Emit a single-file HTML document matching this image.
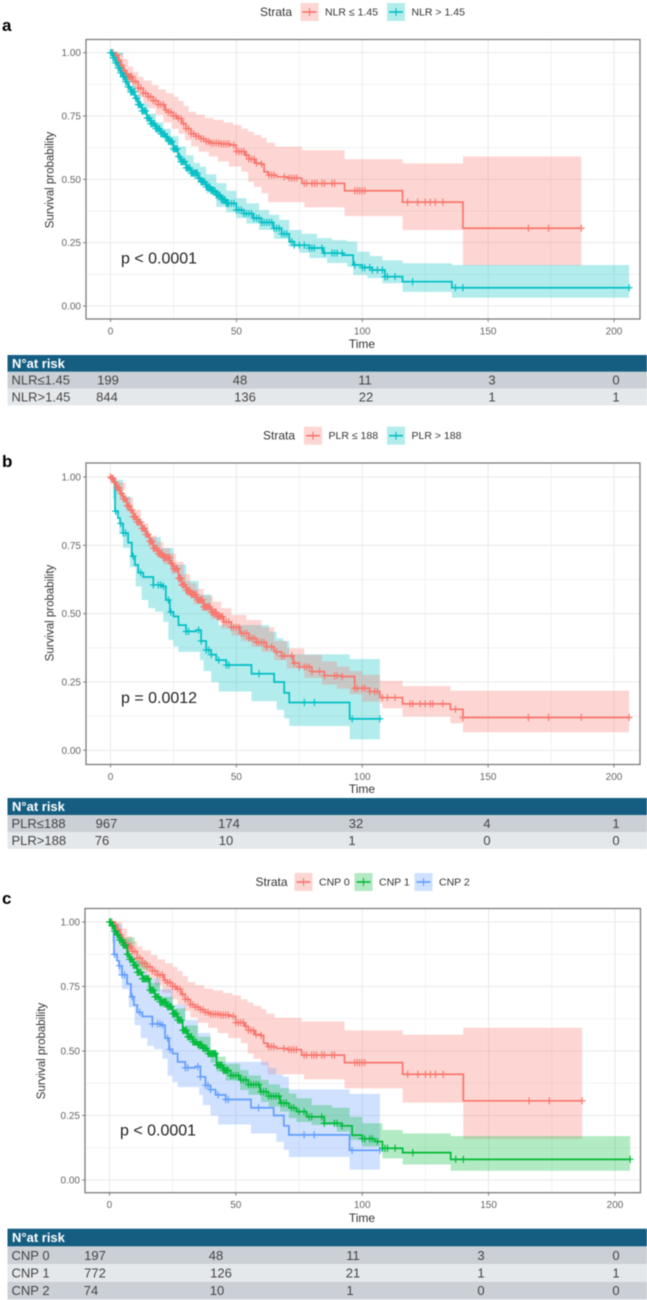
<!DOCTYPE html>
<html lang="en">
<head>
<meta charset="utf-8">
<title>Kaplan-Meier survival curves</title>
<style>
html,body{margin:0;padding:0;background:#fff;width:647px;height:1300px;overflow:hidden}
svg{display:block;filter:blur(0.45px)}
text{font-family:"Liberation Sans",sans-serif}
</style>
</head>
<body>
<svg id="figure" xmlns="http://www.w3.org/2000/svg" width="647" height="1300" viewBox="0 0 647 1300"></svg>
<script>
// ---- axis tick labels ----
const xTickValues = [0, 50, 100, 150, 200];
const xMinorValues = [25, 75, 125, 175];
const yTickValues = [0, 0.25, 0.5, 0.75, 1];
const yMinorValues = [0.125, 0.375, 0.625, 0.875];
const yTickLabels = ["0.00", "0.25", "0.50", "0.75", "1.00"];

// ---- NLR <= 1.45 (also CNP 0) ----
const lowNlrTime = [0,1.5,3,4,5,6,7,9,11,13,15,17,19,21.6,23,25,26.5,28.3,30,32,34,36,38,40,44,47.4,50,53.4,55,57.4,60,61,62.6,66,70.4,76,93,116,140,187];
const lowNlrSurv = [1,.99,.97,.95,.93,.915,.905,.886,.86,.84,.826,.81,.795,.774,.765,.75,.74,.72,.70,.68,.67,.66,.65,.643,.64,.635,.61,.596,.58,.564,.56,.53,.517,.51,.505,.484,.455,.41,.307,.307];
const lowNlrUpperTime = [0,3,5,7,9,11,13,16.4,19,22,25,27,29,31,34,37.5,41,45,48.7,52,54.7,57,60,62,65.3,76,93,116,140,187];
const lowNlrUpper = [1,1,.975,.945,.925,.905,.89,.872,.855,.84,.826,.81,.79,.767,.755,.742,.735,.725,.715,.70,.688,.675,.663,.645,.629,.615,.58,.563,.59,.59];
const lowNlrLowerTime = [0,3,5,7,9,11,13,15,18,21,24.3,27,29.6,32,35,39,42.7,47,52,54.7,57,60,62.6,66,77,93,116,140,187];
const lowNlrLower = [1,.95,.91,.88,.85,.825,.80,.78,.755,.725,.70,.68,.655,.63,.609,.59,.57,.55,.53,.49,.47,.445,.41,.41,.39,.355,.30,.16,.16];
const lowNlrCensor = [1,2,2.5,3,3.5,4,4.5,5,5.5,6,6.5,7,7.5,8,8.5,9,10,11,12,13,14,15,16,17,18,19,20,21,22,23,24,25,26,27,28,29,30,31,32,33,34,35,36,37,38,39,40,41,42,43,44,45,46,47,49,50,51,52,53,54,55,56,57,58,60,63,64,65,69,71,72,73,74,77,78,80,81,82,84,85,88,89,97,98,99,100,101,118,122,125,127,129,132,166,174,187];

// ---- NLR > 1.45 ----
const highNlrTime = [0,1,2,3,4,5,6,7,8,9.7,11,12.5,14.4,16,18,20,21.6,23,25,26.8,28,30,32,34.8,36,38,40,42,44,46,50,53,56.7,60,64.7,68,71,73,79,84.5,92.5,96.4,100,104,109,116,135.6,206];
const highNlrSurv = [1,.98,.96,.94,.92,.905,.885,.865,.845,.82,.795,.77,.742,.72,.70,.68,.668,.65,.62,.59,.57,.545,.525,.505,.49,.47,.455,.438,.42,.405,.379,.365,.347,.33,.307,.285,.254,.24,.229,.209,.201,.162,.152,.142,.116,.096,.072,.072];
const highNlrUpperTime = [0,5,8,10,12,15,18,21,24,27,30,33,35.5,38,42,46,50,54,59,63,67,71,76,82,88,94,98,103,108,116,135.6,206];
const highNlrUpper = [1,.92,.87,.835,.80,.76,.725,.70,.67,.63,.595,.565,.55,.52,.485,.455,.426,.405,.379,.36,.34,.30,.285,.268,.26,.254,.214,.197,.18,.169,.162,.162];
const highNlrLowerTime = [0,5,8,10,12,15,18,21,24,27,30,33,35.5,38,42,46,50,54,59,65,70.7,75,79,86,94,96.4,102,108,116,135.6,206];
const highNlrLower = [.99,.89,.83,.80,.77,.725,.685,.655,.61,.57,.53,.50,.485,.445,.392,.37,.347,.325,.30,.265,.234,.21,.189,.17,.155,.122,.11,.09,.056,.033,.033];
const highNlrCensor = [0,.5,1,1.5,2,2.5,3,3.5,4,4.5,5,5.5,6,6.5,7,7.5,8,8.5,9,9.5,10,10.5,11,11.5,12,12.5,13,13.5,14,14.5,15,15.5,16,16.5,17,17.5,18,18.5,19,19.5,20,20.5,21,21.5,22,22.5,23,23.5,24,24.5,25,25.5,26,26.5,27,27.5,28,28.5,29,29.5,30,30.5,31,31.5,32,32.5,33,33.5,34,34.5,35,35.5,36,36.5,37,37.5,38,38.5,39,39.5,40,40.5,41,41.5,42,42.5,43,43.5,44,44.5,45,45.5,46,46.5,47,48,49,50,51,52,53,54,55,56,57,58,59,60,61,62,63,64,65,66,67,68,69,70,72,73,75,77,79,80,81,84,85,88,89,90,92,97,100,101,103,104,106,108,109,110,113,120,137,140,206];

// ---- PLR <= 188 ----
const lowPlrTime = [0,.5,1.5,2.5,3.8,5,6.5,7.7,9,10.5,12.4,14,15.5,17,19,21,23.6,25,27,28.3,30,32,34.2,37,40,42.2,45,48,51.4,55,58,62,65,68,72.6,75,80,85,92,97,103,107,116,135,140,206];
const lowPlrSurv = [1,.995,.98,.96,.94,.92,.895,.879,.855,.835,.812,.79,.765,.739,.72,.705,.684,.665,.63,.605,.585,.57,.55,.525,.505,.489,.47,.45,.428,.41,.395,.379,.36,.345,.319,.305,.288,.273,.27,.227,.215,.193,.17,.15,.12,.12];
const lowPlrUpperTime = [0,3,6,9,12,15,18.3,21,23.6,26,29,31.6,34,37,40.7,44,48,54,60,65,70,77,84,90,95,100,107,116,135,206];
const lowPlrUpper = [1,.98,.925,.88,.83,.785,.763,.74,.72,.69,.645,.611,.59,.565,.544,.52,.495,.477,.45,.40,.373,.349,.325,.306,.29,.276,.254,.235,.218,.218];
const lowPlrLowerTime = [0,3,6,9,12,15,18,21,24,27,30,33,36,40,44,48,52,56,60,65,70,77,84,90,95,100,107,108,116,135,140,206];
const lowPlrLower = [1,.95,.89,.84,.80,.745,.71,.68,.645,.60,.565,.535,.51,.48,.445,.42,.40,.38,.36,.33,.30,.265,.24,.225,.205,.178,.172,.154,.123,.099,.066,.066];
const lowPlrCensor = [0,.5,1,1.5,2,2.5,3,3.5,4,4.5,5,5.5,6,6.5,7,7.5,8,8.5,9,9.5,10,10.5,11,11.5,12,12.5,13,13.5,14,14.5,15,15.5,16,16.5,17,17.5,18,18.5,19,19.5,20,20.5,21,21.5,22,22.5,23,23.5,24,24.5,25,25.5,26,26.5,27,27.5,28,28.5,29,29.5,30,30.5,31,31.5,32,32.5,33,33.5,34,34.5,35,35.5,36,36.5,37,37.5,38,38.5,39,39.5,40,40.5,41,41.5,42,42.5,43,43.5,44,44.5,45,46,47,48,49,50,51,52,53,54,55,56,57,58,59,60,61,62,64,66,68,69,72,73,75,77,78,79,80,83,85,89,90,92,97,98,100,101,103,105,106,108,110,113,119,120,123,125,127,128,132,137,140,166,174,187,206];

// ---- PLR > 188 (also CNP 2) ----
const highPlrTime = [0,.8,1.8,3,3.8,5,7,8.5,9.7,11,13,17,20.3,22,23.6,25,27,30,34,36,38,40,42,46,56,65,69,71,95,107];
const highPlrSurv = [1,.99,.875,.85,.83,.795,.76,.71,.678,.65,.634,.605,.60,.55,.506,.49,.458,.435,.44,.40,.367,.35,.33,.312,.28,.25,.21,.175,.115,.115];
const highPlrUpperTime = [0,2,5,8,10,12,15,20,25,30,35,40,43,55,63,66,68.6,71,95,107];
const highPlrUpper = [1,.99,.93,.87,.85,.81,.78,.74,.68,.62,.57,.50,.458,.458,.434,.41,.40,.351,.334,.334];
const highPlrLowerTime = [0,1,2,3.5,5,7.7,10,12.4,15,17.7,21,23,25,27,35.5,37,40,43,56,66,69,71,95,107];
const highPlrLower = [1,.92,.86,.795,.74,.67,.60,.55,.52,.507,.47,.404,.38,.36,.33,.29,.25,.215,.18,.148,.117,.089,.04,.04];
const highPlrCensor = [2,4,5,6,9,12,17,19,20,21,23,24,30,31,35,36,38,39,40,43,46,47,59,77,81,96,107];

// ---- CNP 1 ----
const cnpOneTime = [0,1,2,3,4,5.5,7,8,9.5,11,13,16,18,20,22.7,25,27,29,31,33,35,37,39,42.4,45,48,51.7,55,59.6,63,67.5,71,74,78,85,92,96,100,105,108,116,135,206];
const cnpOneSurv = [1,.985,.965,.95,.93,.91,.875,.855,.833,.805,.78,.736,.71,.69,.672,.645,.62,.58,.555,.535,.525,.51,.49,.445,.425,.405,.388,.37,.342,.325,.298,.28,.265,.245,.22,.21,.174,.16,.149,.123,.106,.08,.08];
const cnpOneUpperTime = [0,5,10,15,20,25,30,35,40,42.4,46,51.7,55,60,63,67.5,71,74,80,88,95,100,108,116,135,206];
const cnpOneUpper = [1,.94,.85,.765,.71,.665,.60,.555,.50,.478,.45,.426,.405,.388,.37,.356,.335,.317,.29,.28,.245,.22,.194,.18,.17,.17];
const cnpOneLowerTime = [0,5,10,15,20,25,30,35,40,42.4,46,51.7,55,60,63,67.5,71,74,80,90,95,100,108,116,135,206];
const cnpOneLower = [1,.91,.815,.73,.67,.625,.55,.505,.455,.42,.385,.349,.33,.303,.285,.265,.24,.225,.213,.187,.155,.13,.084,.06,.036,.036];
const cnpOneCensor = [0,.5,1,1.5,2,2.5,3,3.5,4,4.5,5,5.5,6,6.5,7,7.5,8,8.5,9,9.5,10,10.5,11,11.5,12,12.5,13,13.5,14,14.5,15,15.5,16,16.5,17,17.5,18,18.5,19,19.5,20,20.5,21,21.5,22,22.5,23,23.5,24,24.5,25,25.5,26,26.5,27,27.5,28,28.5,29,29.5,30,30.5,31,31.5,32,32.5,33,33.5,34,34.5,35,35.5,36,36.5,37,37.5,38,38.5,39,39.5,40,40.5,41,41.5,42,42.5,43,43.5,44,44.5,45,45.5,46,46.5,47,48,49,50,51,52,53,54,55,56,57,58,59,60,61,62,63,64,65,66,67,68,69,70,72,73,75,77,79,80,84,85,89,90,92,100,101,103,104,106,108,109,110,113,120,137,140,206];

// ---- numbers at risk ----
const riskColumns = 5;
const nlrRiskLow = [199, 48, 11, 3, 0];
const nlrRiskHigh = [844, 136, 22, 1, 1];
const plrRiskLow = [967, 174, 32, 4, 1];
const plrRiskHigh = [76, 10, 1, 0, 0];
const cnpRisk0 = [197, 48, 11, 3, 0];
const cnpRisk1 = [772, 126, 21, 1, 1];
const cnpRisk2 = [74, 10, 1, 0, 0];

const RED = "#F8766D", TEAL = "#00BFC4", GREEN = "#00BA38", BLUE = "#619CFF";
const NS = "http://www.w3.org/2000/svg";
const root = document.getElementById("figure");

function mk(tag, attrs, parent, txt) {
  const el = document.createElementNS(NS, tag);
  for (const k in attrs) el.setAttribute(k, attrs[k]);
  if (txt !== undefined) el.textContent = txt;
  (parent || root).appendChild(el);
  return el;
}
function stepPts(ts, vs, sx, sy) {
  const pts = [];
  for (let i = 0; i < ts.length; i++) {
    if (i > 0) pts.push([sx(ts[i]), sy(vs[i - 1])]);
    pts.push([sx(ts[i]), sy(vs[i])]);
  }
  return pts;
}
function survAt(ts, vs, t) {
  let v = vs[0];
  for (let i = 0; i < ts.length; i++) { if (ts[i] <= t) v = vs[i]; }
  return v;
}
function fmt(pts) { return pts.map(p => p[0].toFixed(2) + "," + p[1].toFixed(2)).join(" "); }

function drawPanel(p) {
  const g = mk("g", {}, root);
  
  
  const sx = t => p.x0 + t * (p.x200 - p.x0) / 200;
  const sy = s => p.y0 - s * (p.y0 - p.y1);

  const letter = mk("text", {x: 2, y: p.letterY, "font-size": 17, "font-weight": "bold", fill: "#000"}, g, p.letter);
  
  

  // legend
  const legend = mk("g", {}, g);
  
  
  const lt = mk("text", {x: p.legendTitleX, y: p.legendY + 4, "font-size": 12, "text-anchor": "middle", fill: "#333"}, legend, "Strata");
  
  
  p.series.forEach(s => {
    const e = mk("g", {}, legend);
    
    
    mk("rect", {x: s.keyX, y: p.legendY - 9, width: 18, height: 18, fill: s.color, "fill-opacity": .3}, e);
    mk("line", {x1: s.keyX + 2, x2: s.keyX + 16, y1: p.legendY, y2: p.legendY, stroke: s.color, "stroke-width": 1.6}, e);
    mk("line", {x1: s.keyX + 9, x2: s.keyX + 9, y1: p.legendY - 4, y2: p.legendY + 4, stroke: s.color, "stroke-width": 1.1}, e);
    mk("text", {x: s.keyX + 24.5, y: p.legendY + 3.5, "font-size": 10.5, fill: "#333"}, e, s.label);
  });

  // grid
  const grid = mk("g", {stroke: "#e9e9e9"}, g);
  
  
  xMinorValues.forEach(v => mk("line", {x1: sx(v), x2: sx(v), y1: p.top, y2: p.bottom, "stroke-width": .6}, grid));
  yMinorValues.forEach(v => mk("line", {x1: p.left, x2: p.right, y1: sy(v), y2: sy(v), "stroke-width": .6}, grid));
  xTickValues.forEach(v => mk("line", {x1: sx(v), x2: sx(v), y1: p.top, y2: p.bottom, "stroke-width": 1}, grid));
  yTickValues.forEach(v => mk("line", {x1: p.left, x2: p.right, y1: sy(v), y2: sy(v), "stroke-width": 1}, grid));

  // bands
  p.series.forEach(s => {
    const up = stepPts(s.upT, s.up, sx, sy);
    const lo = stepPts(s.loT, s.lo, sx, sy).reverse();
    const band = mk("polygon", {points: fmt(up.concat(lo)), fill: s.color, "fill-opacity": .3, stroke: "none"}, g);
    
    
  });
  // curves and censor marks
  p.series.forEach(s => {
    const line = mk("polyline", {points: fmt(stepPts(s.t, s.s, sx, sy)), fill: "none", stroke: s.color, "stroke-width": 1.7}, g);
    
    
    const marks = mk("g", {stroke: s.color, "stroke-width": 1.15, fill: "none"}, g);
    
    
    s.c.forEach(c => {
      const x = sx(c), y = sy(survAt(s.t, s.s, c));
      mk("path", {d: `M${(x - 3.4).toFixed(2)} ${y.toFixed(2)}h6.8M${x.toFixed(2)} ${(y - 3.6).toFixed(2)}v7.2`}, marks);
    });
  });

  // frame
  const frame = mk("rect", {x: p.left, y: p.top, width: p.right - p.left, height: p.bottom - p.top, fill: "none", stroke: "#7c7c7c", "stroke-width": 1.3}, g);
  
  

  // axes
  xTickValues.forEach(v => {
    mk("line", {x1: sx(v), x2: sx(v), y1: p.bottom, y2: p.bottom + 3, stroke: "#666", "stroke-width": .8}, g);
    const t = mk("text", {x: sx(v), y: p.bottom + 15.5, "font-size": 10, "text-anchor": "middle", fill: "#666"}, g, String(v));
    
    
  });
  yTickValues.forEach((v, i) => {
    mk("line", {x1: p.left - 3, x2: p.left, y1: sy(v), y2: sy(v), stroke: "#666", "stroke-width": .8}, g);
    const t = mk("text", {x: p.left - 5, y: sy(v) + 3.5, "font-size": 10, "text-anchor": "end", fill: "#666"}, g, yTickLabels[i]);
    
    
  });
  const xt = mk("text", {x: 362, y: p.timeY + 4, "font-size": 12, "text-anchor": "middle", fill: "#333"}, g, "Time");
  
  
  const yt = mk("text", {x: 0, y: 0, transform: `translate(${p.yTitleX},${p.yTitleY}) rotate(-90)`, "font-size": 11.5, "text-anchor": "middle", fill: "#333"}, g, "Survival probability");
  
  
  const pv = mk("text", {x: p.pX, y: p.pY + 5.5, "font-size": 16, fill: "#222"}, g, p.pText);
  
  

  // risk table
  const tb = mk("g", {}, g);
  
  
  const head = mk("rect", {x: 7.5, y: p.tableY, width: 639.5, height: p.rowH, fill: "#155e82"}, tb);
  
  
  const ht = mk("text", {x: 12, y: p.tableY + p.rowH / 2 + 4.5, "font-size": 13, "font-weight": "bold", fill: "#fff"}, tb, "N°at risk");
  
  
  p.rows.forEach((r, i) => {
    const y = p.tableY + p.rowH * (i + 1);
    const row = mk("g", {}, tb);
    
    
    mk("rect", {x: 7.5, y: y, width: 639.5, height: p.rowH, fill: i % 2 ? "#e5e8eb" : "#cbd0d6"}, row);
    mk("text", {x: 11.5, y: y + p.rowH / 2 + 4.5, "font-size": 13, fill: "#444"}, row, r.label);
    for (let j = 0; j < riskColumns; j++) {
      mk("text", {x: r.xs[j], y: y + p.rowH / 2 + 4.5, "font-size": 13, "text-anchor": "middle", fill: "#444"}, row, String(r.vals[j]));
    }
  });
}

const lowNlr = {color: RED, t: lowNlrTime, s: lowNlrSurv, upT: lowNlrUpperTime, up: lowNlrUpper, loT: lowNlrLowerTime, lo: lowNlrLower, c: lowNlrCensor};
const highNlr = {color: TEAL, t: highNlrTime, s: highNlrSurv, upT: highNlrUpperTime, up: highNlrUpper, loT: highNlrLowerTime, lo: highNlrLower, c: highNlrCensor};
const lowPlr = {color: RED, t: lowPlrTime, s: lowPlrSurv, upT: lowPlrUpperTime, up: lowPlrUpper, loT: lowPlrLowerTime, lo: lowPlrLower, c: lowPlrCensor};
const highPlr = {color: TEAL, t: highPlrTime, s: highPlrSurv, upT: highPlrUpperTime, up: highPlrUpper, loT: highPlrLowerTime, lo: highPlrLower, c: highPlrCensor};
const cnpOne = {color: GREEN, t: cnpOneTime, s: cnpOneSurv, upT: cnpOneUpperTime, up: cnpOneUpper, loT: cnpOneLowerTime, lo: cnpOneLower, c: cnpOneCensor};

drawPanel({
  letter: "a", letterY: 31, legendY: 12, legendTitleX: 276,
  left: 86, right: 640, top: 39.5, bottom: 319, x0: 110.5, x200: 614, y1: 52.7, y0: 306,
  timeY: 344, yTitleX: 53.5, yTitleY: 180, pX: 121, pY: 258, pText: "p < 0.0001",
  tableY: 355, rowH: 16.8,
  series: [Object.assign({}, lowNlr, {label: "NLR ≤ 1.45", keyX: 300.5}), Object.assign({}, highNlr, {label: "NLR > 1.45", keyX: 387})],
  rows: [
    {label: "NLR≤1.45", vals: nlrRiskLow, xs: [108, 240, 365, 492, 616]},
    {label: "NLR>1.45", vals: nlrRiskHigh, xs: [107, 245, 366, 492, 616]}
  ]
});
drawPanel({
  letter: "b", letterY: 467, legendY: 435.7, legendTitleX: 279,
  left: 86, right: 640, top: 463, bottom: 764.5, x0: 110.5, x200: 614, y1: 477, y0: 750.3,
  timeY: 789, yTitleX: 53.5, yTitleY: 613, pX: 121, pY: 697.7, pText: "p = 0.0012",
  tableY: 798, rowH: 17,
  // teal drawn first so the red curve sits on top, as in the reference
  series: [Object.assign({}, highPlr, {label: "PLR > 188", keyX: 387}), Object.assign({}, lowPlr, {label: "PLR ≤ 188", keyX: 304})],
  rows: [
    {label: "PLR≤188", vals: plrRiskLow, xs: [106.5, 229, 356, 487, 616]},
    {label: "PLR>188", vals: plrRiskHigh, xs: [102, 226, 352, 487, 616]}
  ]
});
drawPanel({
  letter: "c", letterY: 904, legendY: 882, legendTitleX: 271.5,
  left: 85, right: 640.5, top: 908.5, bottom: 1192.7, x0: 109.4, x200: 615, y1: 922, y0: 1180,
  timeY: 1218, yTitleX: 45, yTitleY: 1051, pX: 120, pY: 1130, pText: "p < 0.0001",
  tableY: 1228.7, rowH: 17.7,
  series: [
    Object.assign({}, lowNlr, {label: "CNP 0", keyX: 294.5}),
    Object.assign({}, highPlr, {color: BLUE, label: "CNP 2", keyX: 414.5}),
    Object.assign({}, cnpOne, {label: "CNP 1", keyX: 354.5})
  ],
  rows: [
    {label: "CNP 0", vals: cnpRisk0, xs: [95, 216, 353, 481, 616]},
    {label: "CNP 1", vals: cnpRisk1, xs: [95, 221, 353, 481, 616]},
    {label: "CNP 2", vals: cnpRisk2, xs: [91, 217, 350, 481, 616]}
  ]
});
</script>
</body>
</html>
